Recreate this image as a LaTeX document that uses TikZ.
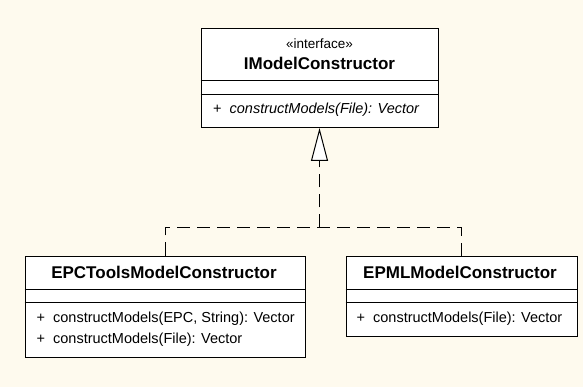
\documentclass[tikz,border=0pt]{standalone}
\usepackage{fontspec}
\setmainfont{Liberation Sans}
\usetikzlibrary{arrows.meta}
\definecolor{bgcream}{RGB}{254,250,238}
\begin{document}
\begin{tikzpicture}[x=1pt,y=-1pt,
  umlbox/.style={draw=black, line width=1pt, fill=white, inner sep=0pt},
  sepline/.style={draw=black, line width=1pt},
  titletext/.style={font=\fontsize{17}{20}\selectfont\bfseries, inner sep=0pt},
  stereotext/.style={font=\fontsize{13.5}{16}\selectfont, inner sep=0pt},
  methtext/.style={font=\fontsize{14.5}{17}\selectfont, anchor=west, inner sep=0pt},
  realize/.style={line width=1pt, dash pattern=on 13pt off 7pt}
]
\useasboundingbox[fill=bgcream] (0,0) rectangle (583,387);

% interface box
\node[umlbox, minimum width=237pt, minimum height=99pt] (iface) at (319.5,78) {};
\draw[sepline] (iface.west |- 0,80.7) -- (iface.east |- 0,80.7);
\draw[sepline] (iface.west |- 0,94.7) -- (iface.east |- 0,94.7);
\node[stereotext] (istereo) at (319.5,43.5) {«interface»};
\node[titletext] (ititle) at (319.5,63.3) {IModelConstructor};
\node[methtext] (imeth) at (213,110) {+\hspace{8pt}\textit{constructModels(File): Vector}};

% EPCTools box
\node[umlbox, minimum width=280.6pt, minimum height=101.3pt] (epc) at (165.3,306.65) {};
\draw[sepline] (epc.west |- 0,289.3) -- (epc.east |- 0,289.3);
\draw[sepline] (epc.west |- 0,302.7) -- (epc.east |- 0,302.7);
\node[titletext] (epctitle) at (164,272.3) {EPCToolsModelConstructor};
\node[methtext] (epcmethA) at (36.5,319) {+\hspace{8pt}constructModels(EPC, String): Vector};
\node[methtext] (epcmethB) at (36.5,340) {+\hspace{8pt}constructModels(File): Vector};

% EPML box
\node[umlbox, minimum width=231pt, minimum height=80pt] (epml) at (461.5,296) {};
\draw[sepline] (epml.west |- 0,289.3) -- (epml.east |- 0,289.3);
\draw[sepline] (epml.west |- 0,302.7) -- (epml.east |- 0,302.7);
\node[titletext] (epmltitle) at (460,272.3) {EPMLModelConstructor};
\node[methtext] (epmlmeth) at (356.5,319) {+\hspace{8pt}constructModels(File): Vector};

% realization connectors
\coordinate (junc) at (iface.south |- 0,227.5);
\draw[realize] (epc.north) |- (junc) -| (epml.north);
\draw[realize, -{Triangle[open, fill=white, length=33pt, width=17pt, line width=1pt]}] (junc) -- (iface.south);
\end{tikzpicture}
\end{document}
